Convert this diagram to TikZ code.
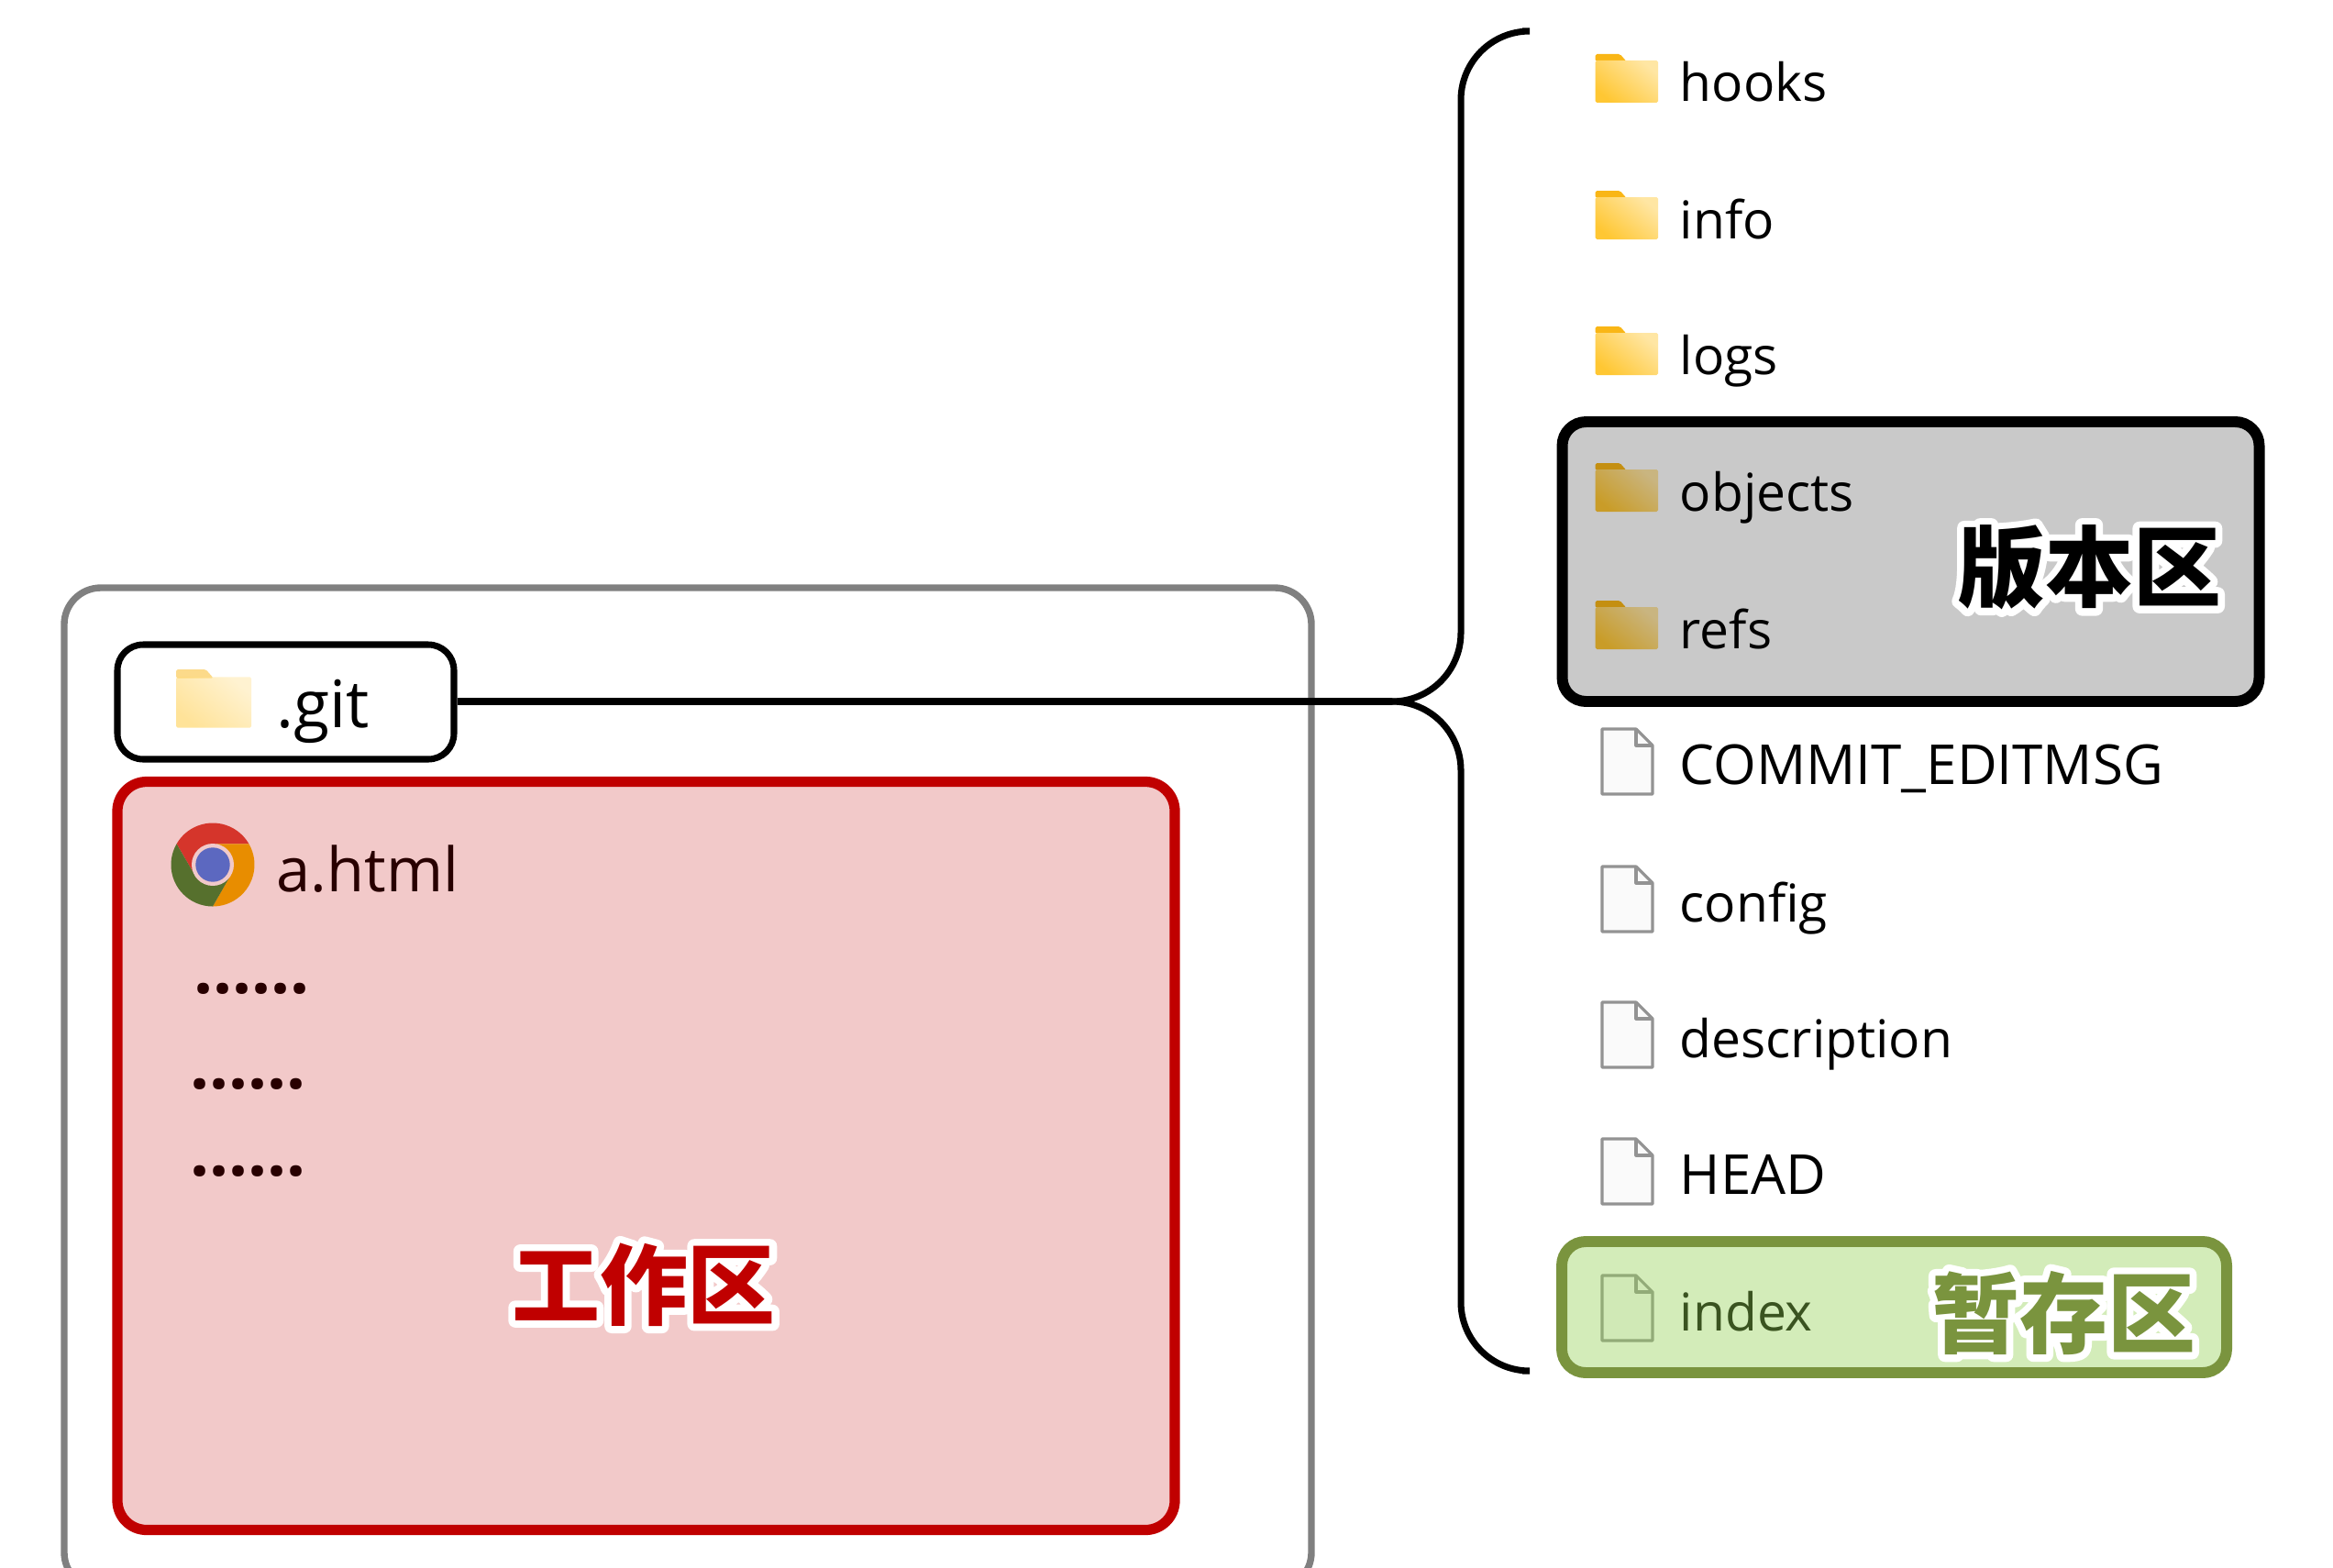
\documentclass[tikz,border=0pt]{standalone}
\usepackage{fontspec}
\usetikzlibrary{positioning}
\setmainfont{Open Sans}
\newfontfamily\cjk{Noto Sans CJK SC}
\newfontfamily\cjkglow[BoldFeatures={FakeBold=16}]{Noto Sans CJK SC}
\definecolor{workred}{HTML}{C00000}
\definecolor{stagegreen}{HTML}{7A943E}
\definecolor{stagefill}{HTML}{92D050}
\definecolor{tabyellow}{HTML}{F9B616}
\definecolor{foldyellow}{HTML}{FFC733}
\definecolor{chromeblue}{HTML}{4285F4}
\newcommand{\capsize}{\fontsize{17.1pt}{18pt}\selectfont}
\tikzset{
  rowtext/.style={anchor=base west, inner sep=0pt, font=\fontsize{16.2pt}{18pt}\selectfont},
  bigtext/.style={anchor=base west, inner sep=0pt, font=\fontsize{19pt}{20pt}\selectfont},
  dottext/.style={anchor=base west, inner sep=0pt, font=\bfseries\fontsize{21pt}{22pt}\selectfont},
  arealabel/.style={inner sep=0pt, font=\cjk\bfseries\fontsize{27.3pt}{28pt}\selectfont},
  glowlabel/.style={inner sep=0pt, text=white, font=\special{pdf:code 1 j}\cjkglow\bfseries\fontsize{27.3pt}{28pt}\selectfont},
  areabox/.style={rectangle, inner sep=0pt},
  conn/.style={line width=2pt, black, rounded corners=0.75cm},
  folder/.pic={
    \fill[tabyellow, rounded corners=0.5pt] (0,0) -- (0.27,0) -- (0.34,0.08) -- (0,0.08) -- cycle;
    \shade[left color=foldyellow!45!white, right color=foldyellow, shading angle=-40, rounded corners=0.5pt]
      (0,0.07) -- (0.685,0.07) -- (0.685,0.53) -- (0,0.53) -- cycle;
  },
  paperfile/.pic={
    \draw[gray!85, line width=0.9pt, fill=black!2, line join=round]
      (0,0) -- (0.37,0) -- (0.55,0.18) -- (0.55,0.71) -- (0,0.71) -- cycle;
    \draw[gray!85, line width=0.9pt, line join=round] (0.37,0) -- (0.37,0.18) -- (0.55,0.18);
  },
}
\begin{document}
\begin{tikzpicture}[x=1cm,y=-1cm]
\useasboundingbox (0,0) rectangle (25.44,17.09);
\clip (0,0) rectangle (25.44,17.09);

% left side
\node[areabox, draw=gray, line width=2.1pt, rounded corners=0.4cm, minimum width=13.6cm, minimum height=10.92cm] (outerbox) at (7.5,11.87) {};
\node[areabox, draw=black, line width=2pt, rounded corners=0.28cm, minimum width=3.67cm, minimum height=1.25cm] (gitbox) at (3.115,7.655) {};

\pic[opacity=0.5, scale=1.2] at (1.92,7.30) {folder};
\node[bigtext, font=\fontsize{20.3pt}{20pt}\selectfont] (gitname) at (3.01,7.93) {.git};

% chrome icon
\begin{scope}[shift={(2.32,9.43)}, x=1cm, y=1cm]
\foreach \rot/\col in {0/DB4437, -120/F4B400, 120/3A8F3A} {
  \definecolor{slice}{HTML}{\col}
  \fill[slice, rotate=\rot]
    (150:0.455) arc[start angle=150, end angle=30, radius=0.455] -- (80:0.23) -- (0,0) -- (200:0.23) -- cycle;
}
\fill[white] (0,0) circle (0.23);
\fill[chromeblue] (0,0) circle (0.187);
\end{scope}
\node[bigtext] (htmlname) at (3.01,9.72) {a.html};

\node[dottext] (dotsa) at (2.11,10.83) {......};
\node[dottext] (dotsb) at (2.07,11.87) {......};
\node[dottext] (dotsc) at (2.07,12.82) {......};

\node[areabox, draw=workred, line width=3.2pt, fill=workred, fill opacity=0.21, rounded corners=0.32cm, minimum width=11.53cm, minimum height=8.16cm] (workbox) at (7.045,12.605) {};
\node[glowlabel] (workglow) at (7.02,14.01) {工作区};
\node[arealabel, text=workred] (worklabel) at (workglow) {工作区};

% the brace
\coordinate (bracetop) at (16.60,0.34);
\coordinate (bracebot) at (16.60,14.95);
\coordinate (bracekink) at (15.93,7.65);
\coordinate (bracemid) at (15.18,7.65);
\draw[conn] (bracetop) -| (bracekink) -- (bracemid);
\draw[conn] (bracebot) -| (bracekink) -- (bracemid);
\draw[conn] (gitbox.east |- bracemid) -- (bracemid);

% the folders and files
\foreach \y/\id/\lab in {1.11/hooks/hooks, 2.60/info/info, 4.08/logs/logs, 5.57/objects/objects, 7.07/refs/refs} {
  \pic at (17.395,\y-0.52) {folder};
  \node[rowtext] (name\id) at (18.31,\y) {\lab};
}
\foreach \y/\id/\lab in {8.55/commit/{\capsize COMMIT\_EDITMSG}, 10.05/config/config, 11.53/desc/description, 13.02/head/{\capsize HEAD}, 14.51/index/index} {
  \pic at (17.47,\y-0.60) {paperfile};
  \node[rowtext] (name\id) at (18.31,\y) {\lab};
}

\node[areabox, draw=black, line width=3.4pt, fill=black, fill opacity=0.21, rounded corners=0.26cm, minimum width=7.6cm, minimum height=3.05cm] (repobox) at (20.835,6.125) {};
\node[areabox, draw=stagegreen, line width=3.4pt, fill=stagefill, fill opacity=0.4, rounded corners=0.26cm, minimum width=7.25cm, minimum height=1.43cm] (stagebox) at (20.655,14.255) {};

\node[glowlabel] (repoglow) at (22.78,6.19) {版本区};
\node[arealabel, text=black] (repolabel) at (repoglow) {版本区};
\node[glowlabel] (stageglow) at (22.50,14.32) {暂存区};
\node[arealabel, text=stagegreen] (stagelabel) at (stageglow) {暂存区};
\end{tikzpicture}
\end{document}
